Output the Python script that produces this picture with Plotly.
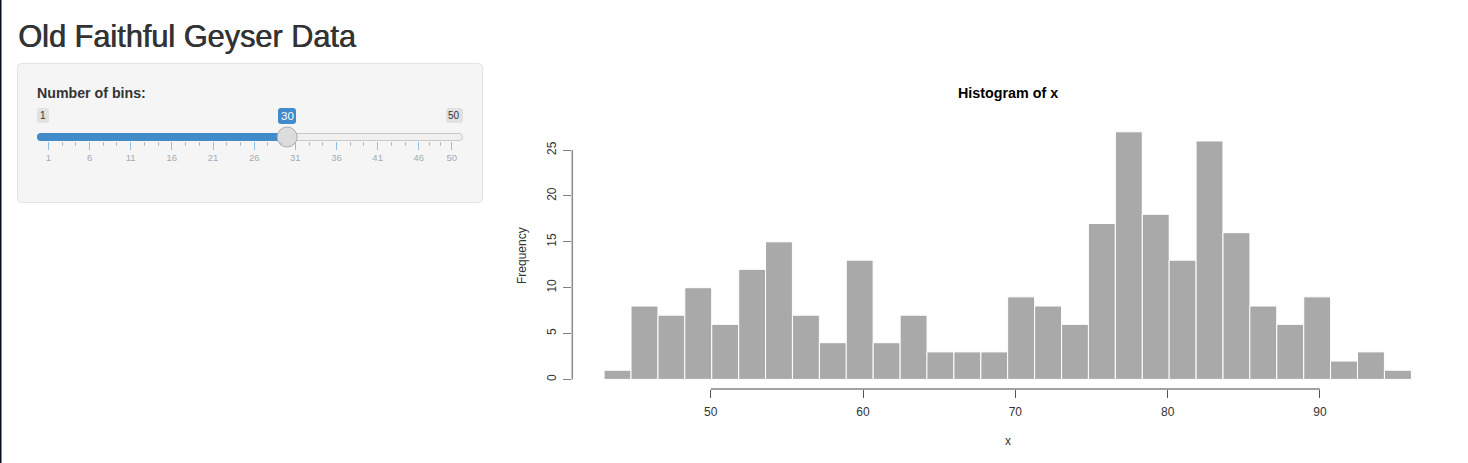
import plotly.graph_objects as go

W = 1468
H = 463

# histogram data
bin_mids = [43.88, 45.65, 47.42, 49.18, 50.95, 52.72, 54.48, 56.25, 58.02, 59.78,
            61.55, 63.32, 65.08, 66.85, 68.62, 70.38, 72.15, 73.92, 75.68, 77.45,
            79.22, 80.98, 82.75, 84.52, 86.28, 88.05, 89.82, 91.58, 93.35, 95.12]
counts = [1, 8, 7, 10, 6, 12, 15, 7, 4, 13, 4, 7, 3, 3, 3,
          9, 8, 6, 17, 27, 18, 13, 26, 16, 8, 6, 9, 2, 3, 1]
bin_width = 1.7667
x_ticks = [50, 60, 70, 80, 90]
y_ticks = [0, 5, 10, 15, 20, 25]

# slider
slider_min = 1
slider_max = 50
slider_value = 30
slider_ticks = [1, 6, 11, 16, 21, 26, 31, 36, 41, 46, 50]
slider_minor = [2.67, 4.33, 7.67, 9.33, 12.67, 14.33, 17.67, 19.33, 22.67, 24.33,
                27.67, 29.33, 32.67, 34.33, 37.67, 39.33, 42.67, 44.33, 47.33, 48.67]

FONT = "Liberation Sans"


def px(x):
    return x / W


def py(y):
    return 1 - y / H


def round_rect(x0, y0, x1, y1, r, fill, line=None, lw=1):
    # rounded box given in page pixels
    p = (f"M {px(x0 + r)} {py(y0)} L {px(x1 - r)} {py(y0)} Q {px(x1)} {py(y0)} {px(x1)} {py(y0 + r)} "
         f"L {px(x1)} {py(y1 - r)} Q {px(x1)} {py(y1)} {px(x1 - r)} {py(y1)} "
         f"L {px(x0 + r)} {py(y1)} Q {px(x0)} {py(y1)} {px(x0)} {py(y1 - r)} "
         f"L {px(x0)} {py(y0 + r)} Q {px(x0)} {py(y0)} {px(x0 + r)} {py(y0)} Z")
    return dict(type="path", path=p, xref="paper", yref="paper", fillcolor=fill,
                line=dict(color=line if line else fill, width=lw if line else 0), layer="below")


def label(text, x, y, size, color="#333333", bold=False, anchor="center", angle=0, shadow=None):
    font = dict(family=FONT, size=size, color=color)
    if shadow:
        font["shadow"] = shadow
    return dict(text=f"<b>{text}</b>" if bold else text, x=px(x), y=py(y), xref="paper", yref="paper",
                xanchor=anchor, yanchor="middle", showarrow=False, textangle=angle, font=font)


fig = go.Figure()

fig.add_trace(go.Bar(x=bin_mids, y=counts, width=bin_width, xaxis="x", yaxis="y",
                     marker=dict(color="#a9a9a9", line=dict(color="#ffffff", width=1)),
                     showlegend=False))

# slider handle sits on its own axes
fig.add_trace(go.Scatter(x=[slider_value], y=[0], xaxis="x2", yaxis="y2", mode="markers",
                         cliponaxis=False, showlegend=False,
                         marker=dict(size=20, color="#dcdcdc", line=dict(color="#ababab", width=1))))

shapes = [
    dict(type="rect", xref="paper", yref="paper", x0=0, x1=px(1.5), y0=0, y1=1,
         fillcolor="#0b1020", line=dict(width=0), layer="below"),
    round_rect(17.5, 63.5, 482.5, 202.5, 4, "#f5f5f5", "#e3e3e3"),
    round_rect(37, 108, 49, 123, 3, "#e1e1e1"),
    round_rect(446, 108, 463, 123, 3, "#e1e1e1"),
    round_rect(278, 108, 296, 124, 3, "#428bca"),
    round_rect(37.5, 133.5, 462.5, 140.5, 3.5, "#f0f0f0", "#c9c9c9"),
    round_rect(37, 133, 287, 141, 4, "#428bca"),
    # R style axis lines, only as long as the ticks
    dict(type="line", xref="x", yref="y domain", x0=50, x1=90, y0=0, y1=0,
         line=dict(color="#444444", width=1)),
    dict(type="line", xref="x domain", yref="y", x0=0, x1=0, y0=0, y1=25,
         line=dict(color="#8a8a8a", width=1.5)),
]

annotations = [
    label("Old Faithful Geyser Data", 16, 36, 30.7, anchor="left", shadow="0.7px 0 0 #333333"),
    label("Number of bins:", 35, 93, 14.2, bold=True, anchor="left"),
    label(str(slider_min), 42.5, 115.5, 10),
    label(str(slider_max), 454.5, 115.5, 10),
    label(str(slider_value), 287, 116, 11.5, color="#ffffff"),
    label("Histogram of x", 1008, 92.5, 14.3, color="#000000", bold=True),
    label("Frequency", 522, 256, 12, color="#333333", angle=-90),
    label("x", 1008, 441, 12, color="#333333"),
]

fig.update_layout(
    width=W,
    height=H,
    margin=dict(l=0, r=0, t=0, b=0),
    paper_bgcolor="#ffffff",
    plot_bgcolor="rgba(0,0,0,0)",
    font=dict(family=FONT),
    shapes=shapes,
    annotations=annotations,
    xaxis=dict(domain=[px(572.3), px(1420)], range=[40.91, 96.57], tickvals=x_ticks,
               ticks="outside", ticklen=8, tickcolor="#555555", showgrid=False, zeroline=False,
               ticklabelstandoff=4, tickfont=dict(size=12, color="#333333")),
    yaxis=dict(domain=[py(389), py(125)], range=[-1.047, 27.74], tickvals=y_ticks,
               ticks="outside", ticklen=8, tickcolor="#808080", showgrid=False, zeroline=False,
               tickangle=-90, ticklabelstandoff=3, tickfont=dict(size=12, color="#333333")),
    xaxis2=dict(domain=[px(37), px(463)], range=[-0.385, 51.37], anchor="y2", tickvals=slider_ticks,
                ticks="outside", ticklen=8, tickcolor="#93bfe3", showgrid=False, zeroline=False,
                ticklabelstandoff=0, tickfont=dict(size=9.5, color="#a2acb6"),
                minor=dict(tickvals=slider_minor, ticks="outside", ticklen=4, tickcolor="#bbbbbb",
                           showgrid=False)),
    yaxis2=dict(domain=[py(141), py(133)], range=[-1, 1], anchor="x2", visible=False),
)

fig.write_html("out.html", config={"displayModeBar": False},
               post_script="document.body.style.margin='0';")
